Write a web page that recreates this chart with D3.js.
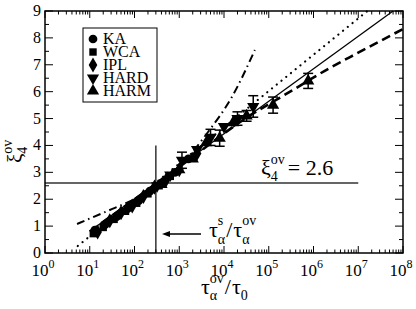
<!doctype html>
<html>
<head>
<meta charset="utf-8">
<script src="https://d3js.org/d3.v7.min.js"></script>
<style>
  body { margin: 0; background: #fff; }
</style>
</head>
<body>
<div id="chart"></div>
<script>
// series data (tau_alpha^ov / tau_0 , xi_4^ov , error)
var kaTau = [13, 22, 40, 70, 125, 220, 400, 800, 1600];
var kaXi = [0.85, 1.05, 1.35, 1.65, 1.95, 2.3, 2.6, 3.0, 3.5];
var wcaTau = [12, 20, 35, 63, 112, 200, 355, 630];
var wcaXi = [0.72, 0.95, 1.25, 1.55, 1.85, 2.2, 2.5, 2.85];
var iplTau = [15, 28, 50, 89, 158, 280, 500, 1000, 2500];
var iplXi = [0.78, 1.2, 1.5, 1.75, 2.1, 2.45, 2.7, 3.1, 3.7];
var hardTau = [320, 630, 1150, 2500, 5000, 10000, 20000, 45000];
var hardXi = [2.5, 2.9, 3.45, 3.85, 4.3, 4.7, 5.0, 5.45];
var hardErr = [0, 0, 0.3, 0, 0.3, 0, 0.25, 0.4];
var harmTau = [400, 1000, 2000, 4000, 8000, 16000, 32000, 125000, 760000];
var harmXi = [2.55, 3.1, 3.5, 4.1, 4.27, 4.85, 5.1, 5.5, 6.4];
var harmErr = [0, 0, 0, 0, 0.3, 0, 0.2, 0.3, 0.28];

// fit curves
var solidTau = [10, 6e7];
var solidXi = [0.81, 9.0];
var dottedTau = [5.4, 1.6e7];
var dottedXi = [0.26, 9.0];
var dashedTau = [10, 1000, 3e4, 3e5, 2.3e6, 1e7, 1e8];
var dashedXi = [0.8, 3.2, 5.0, 6.0, 6.88, 7.45, 8.33];
var dashDotTau = [5.2, 32, 100, 320, 1000, 4400, 15000, 49000];
var dashDotXi = [1.08, 1.64, 2.0, 2.5, 3.2, 4.5, 5.8, 7.55];

var xTicks = [1, 10, 100, 1e3, 1e4, 1e5, 1e6, 1e7, 1e8];
var xTickExp = ["0", "1", "2", "3", "4", "5", "6", "7", "8"];
var yTicks = [0, 1, 2, 3, 4, 5, 6, 7, 8, 9];
var legendNames = ["KA", "WCA", "IPL", "HARD", "HARM"];

var xiLine = 2.6, xiLineEnd = 1e7;
var tauS = 300, tauSTop = 4;

(function () {
var W = 416, H = 309;
var pl = 45, pr = 403, pt = 11, pb = 253;

var x = d3.scaleLog().domain([1, 1e8]).range([pl, pr]);
var y = d3.scaleLinear().domain([0, 9]).range([pb, pt]);

var svg = d3.select("#chart").append("svg")
    .attr("width", W).attr("height", H)
    .attr("font-family", "'Liberation Serif', 'DejaVu Serif', serif");

// reference lines
svg.append("line")
    .attr("x1", x(1)).attr("x2", x(xiLineEnd))
    .attr("y1", y(xiLine)).attr("y2", y(xiLine))
    .attr("stroke", "#333").attr("stroke-width", 1.5);
svg.append("line")
    .attr("x1", x(tauS)).attr("x2", x(tauS))
    .attr("y1", y(0)).attr("y2", y(tauSTop))
    .attr("stroke", "#333").attr("stroke-width", 1.5);

// curves
var line = d3.line().x(function (d) { return x(d[0]); }).y(function (d) { return y(d[1]); });
var curved = d3.line().x(function (d) { return x(d[0]); }).y(function (d) { return y(d[1]); })
    .curve(d3.curveMonotoneX);

function pairs(a, b) { return a.map(function (v, i) { return [v, b[i]]; }); }

svg.append("path").attr("d", line(pairs(solidTau, solidXi)))
    .attr("fill", "none").attr("stroke", "#000").attr("stroke-width", 1.3);
svg.append("path").attr("d", line(pairs(dottedTau, dottedXi)))
    .attr("fill", "none").attr("stroke", "#000").attr("stroke-width", 2.2)
    .attr("stroke-dasharray", "0.1 6").attr("stroke-linecap", "round");
svg.append("path").attr("d", curved(pairs(dashedTau, dashedXi)))
    .attr("fill", "none").attr("stroke", "#000").attr("stroke-width", 2.6)
    .attr("stroke-dasharray", "9 5");
svg.append("path").attr("d", curved(pairs(dashDotTau, dashDotXi)))
    .attr("fill", "none").attr("stroke", "#000").attr("stroke-width", 2)
    .attr("stroke-dasharray", "8 4 1.5 4");

// markers
var sym = {
    KA: d3.symbol().type(d3.symbolCircle).size(60),
    WCA: d3.symbol().type(d3.symbolSquare).size(55),
    IPL: d3.symbol().type(d3.symbolDiamond).size(65),
    HARD: d3.symbol().type(d3.symbolTriangle).size(65),
    HARM: d3.symbol().type(d3.symbolTriangle).size(65)
};

function drawSeries(name, tau, xi, err) {
    var g = svg.append("g");
    tau.forEach(function (t, i) {
        var e = err ? err[i] : 0;
        if (e > 0) {
            var cx = x(t);
            g.append("line").attr("x1", cx).attr("x2", cx)
                .attr("y1", y(xi[i] - e)).attr("y2", y(xi[i] + e))
                .attr("stroke", "#000").attr("stroke-width", 1.5);
            [xi[i] - e, xi[i] + e].forEach(function (v) {
                g.append("line").attr("x1", cx - 5).attr("x2", cx + 5)
                    .attr("y1", y(v)).attr("y2", y(v))
                    .attr("stroke", "#000").attr("stroke-width", 1.5);
            });
        }
        var rot = name === "HARD" ? " rotate(180)" : "";
        g.append("path").attr("d", sym[name]())
            .attr("transform", "translate(" + x(t) + "," + y(xi[i]) + ")" + rot)
            .attr("fill", "#000");
    });
}
drawSeries("KA", kaTau, kaXi);
drawSeries("WCA", wcaTau, wcaXi);
drawSeries("IPL", iplTau, iplXi);
drawSeries("HARD", hardTau, hardXi, hardErr);
drawSeries("HARM", harmTau, harmXi, harmErr);

// frame
svg.append("rect").attr("x", pl).attr("y", pt)
    .attr("width", pr - pl).attr("height", pb - pt)
    .attr("fill", "none").attr("stroke", "#000").attr("stroke-width", 1.5);

// ticks
var ax = svg.append("g").attr("stroke", "#000").attr("stroke-width", 1);
xTicks.forEach(function (t, i) {
    ax.append("line").attr("x1", x(t)).attr("x2", x(t)).attr("y1", pb).attr("y2", pb - 7);
    ax.append("line").attr("x1", x(t)).attr("x2", x(t)).attr("y1", pt).attr("y2", pt + 7);
    if (i < xTicks.length - 1) {
        for (var k = 2; k <= 9; k++) {
            var v = t * k;
            ax.append("line").attr("x1", x(v)).attr("x2", x(v)).attr("y1", pb).attr("y2", pb - 3.5);
            ax.append("line").attr("x1", x(v)).attr("x2", x(v)).attr("y1", pt).attr("y2", pt + 3.5);
        }
    }
});
yTicks.forEach(function (t) {
    ax.append("line").attr("x1", pl).attr("x2", pl + 8).attr("y1", y(t)).attr("y2", y(t));
    ax.append("line").attr("x1", pr).attr("x2", pr - 8).attr("y1", y(t)).attr("y2", y(t));
    if (t < 9) {
        ax.append("line").attr("x1", pl).attr("x2", pl + 4).attr("y1", y(t + 0.5)).attr("y2", y(t + 0.5));
        ax.append("line").attr("x1", pr).attr("x2", pr - 4).attr("y1", y(t + 0.5)).attr("y2", y(t + 0.5));
    }
});

// tick labels
yTicks.forEach(function (t) {
    svg.append("text").attr("x", pl - 4).attr("y", y(t) + 5)
        .attr("text-anchor", "end").attr("font-size", 16).text(t);
});
xTicks.forEach(function (t, i) {
    var tx = svg.append("text").attr("x", x(t) - 2).attr("y", 276)
        .attr("text-anchor", "middle").attr("font-size", 17);
    tx.append("tspan").text("10");
    tx.append("tspan").attr("dy", -8).attr("font-size", 12).text(xTickExp[i]);
});

// text with stacked super/subscript
function stacked(g, x0, y0, base, sup, sub, size, ssize, supUp, subDown) {
    var b = g.append("text").attr("x", x0).attr("y", y0).attr("font-size", size).text(base);
    var w = b.node().getComputedTextLength();
    var wmax = 0;
    if (sup) {
        var s = g.append("text").attr("x", x0 + w).attr("y", y0 - supUp).attr("font-size", ssize).text(sup);
        wmax = Math.max(wmax, s.node().getComputedTextLength());
    }
    if (sub) {
        var s2 = g.append("text").attr("x", x0 + w).attr("y", y0 + subDown).attr("font-size", ssize).text(sub);
        wmax = Math.max(wmax, s2.node().getComputedTextLength());
    }
    return x0 + w + wmax;
}
function plain(g, x0, y0, str, size) {
    var t = g.append("text").attr("x", x0).attr("y", y0).attr("font-size", size).text(str);
    return x0 + t.node().getComputedTextLength();
}

// y axis title
var yt = svg.append("g").attr("transform", "translate(22,163) rotate(-90)");
stacked(yt, 0, 0, "ξ", "ov", "4", 21, 14, 10, 5);

// x axis title
var xt = svg.append("g");
var px = stacked(xt, 201, 294, "τ", "ov", "α", 22, 14, 11, 6);
px = plain(xt, px + 1, 294, "/", 22);
stacked(xt, px + 1, 294, "τ", null, "0", 22, 14, 0, 6);

// xi = 2.6 label
var lt = svg.append("g");
px = stacked(lt, 261, 175, "ξ", "ov", "4", 22, 14, 11, 6);
plain(lt, px + 3, 175, "= 2.6", 22);

// tau_s arrow label
var at = svg.append("g");
px = stacked(at, 209, 237, "τ", "s", "α", 22, 14, 12, 7);
px = plain(at, px + 1, 237, "/", 22);
stacked(at, px + 1, 237, "τ", "ov", "α", 22, 14, 12, 7);

svg.append("line").attr("x1", 201).attr("x2", 168).attr("y1", 234).attr("y2", 234)
    .attr("stroke", "#000").attr("stroke-width", 1.5);
svg.append("path").attr("d", "M162,234 L170,231 L170,237 Z").attr("fill", "#000");

// legend
var lg = svg.append("g");
lg.append("rect").attr("x", 83).attr("y", 28).attr("width", 74).attr("height", 74)
    .attr("fill", "#fff").attr("stroke", "#000").attr("stroke-width", 1);
legendNames.forEach(function (n, i) {
    var cy = 39 + i * 13;
    var rot = n === "HARD" ? " rotate(180)" : "";
    lg.append("path").attr("d", sym[n]())
        .attr("transform", "translate(93," + cy + ")" + rot).attr("fill", "#000");
    lg.append("text").attr("x", 103).attr("y", cy + 5).attr("font-size", 16).text(n);
});
})();
</script>
</body>
</html>
